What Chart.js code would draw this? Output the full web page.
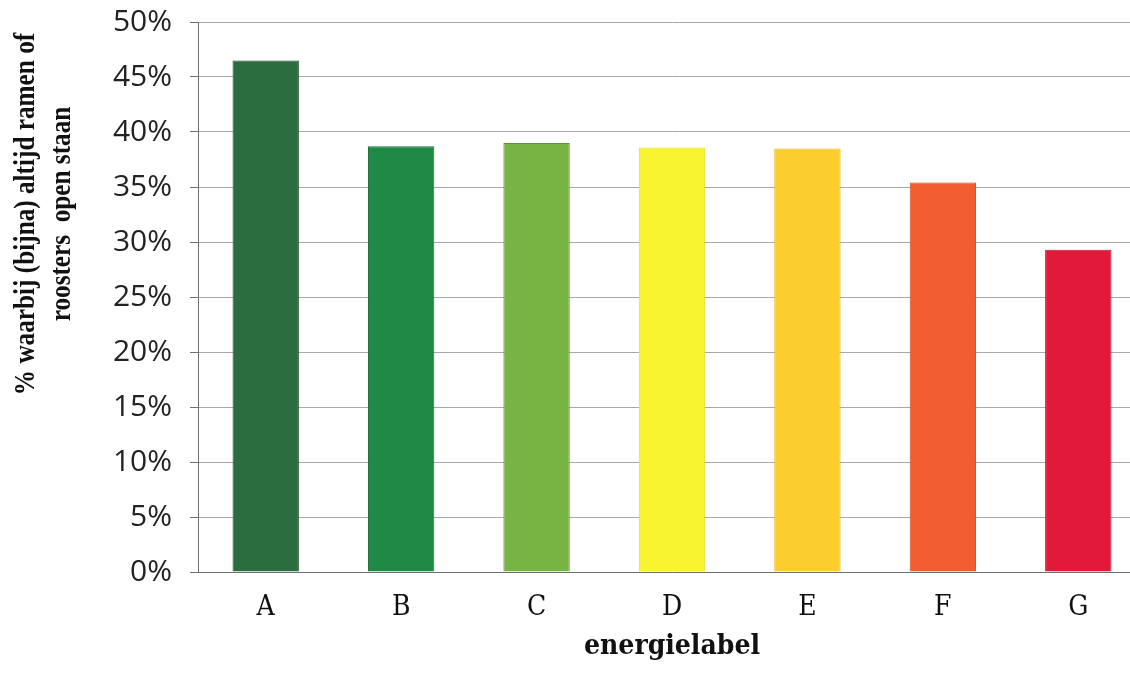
<!DOCTYPE html>
<html>
<head>
<meta charset="utf-8">
<script src="https://cdn.jsdelivr.net/npm/chart.js@4"></script>
<style>
  html, body { margin: 0; padding: 0; background: #fff; overflow: hidden; }
  #wrap { width: 1150px; height: 674px; }
</style>
</head>
<body>
<div id="wrap"><canvas id="c" width="1150" height="674"></canvas></div>
<script>
// Energy label categories and share of homes (%) with windows/vents (almost) always open
const labels = ['A', 'B', 'C', 'D', 'E', 'F', 'G'];
const shares = [46.5, 38.7, 39.0, 38.6, 38.5, 35.4, 29.3];
const barColors = ['#2b6d3e', '#1f8a46', '#78b444', '#f8f430', '#fbcd2d', '#f05d2f', '#e3193a'];
const barBorders = ['#1d4f2c', '#176b36', '#5f9334', '#e3df22', '#e8b81f', '#d84a22', '#c4102d'];
const yTicks = [0, 5, 10, 15, 20, 25, 30, 35, 40, 45, 50];
const yTitle = ['% waarbij (bijna) altijd ramen of', 'roosters  open staan'];
const xTitle = 'energielabel';

// Rotated two-line title for the value axis, set in a narrow bold serif
const yTitlePlugin = {
  id: 'yTitle',
  afterDraw(chart) {
    const ctx = chart.ctx;
    ctx.save();
    ctx.font = 'bold 29px "Liberation Serif", serif';
    ctx.fillStyle = '#111';
    ctx.textAlign = 'center';
    ctx.textBaseline = 'middle';
    const cx = [27, 63];
    yTitle.forEach((line, i) => {
      ctx.save();
      ctx.translate(cx[i], 214);
      ctx.rotate(-Math.PI / 2);
      ctx.scale(0.87, 1);
      ctx.fillText(line, 0, 0);
      ctx.restore();
    });
    ctx.restore();
  }
};

new Chart(document.getElementById('c'), {
  type: 'bar',
  data: {
    labels: labels,
    datasets: [{
      data: shares,
      backgroundColor: barColors,
      borderColor: barBorders,
      borderWidth: 1,
      barPercentage: 0.49,
      categoryPercentage: 1.0
    }]
  },
  plugins: [yTitlePlugin],
  options: {
    responsive: false,
    animation: false,
    devicePixelRatio: 1,
    layout: { padding: { top: 22, left: 0, right: 4, bottom: 0 } },
    plugins: { legend: { display: false }, tooltip: { enabled: false } },
    scales: {
      x: {
        grid: { display: false, drawTicks: false },
        border: { display: true, color: '#6f6f6f', width: 1 },
        ticks: {
          color: '#111',
          padding: 19,
          font: { family: '"DejaVu Serif Condensed", "DejaVu Serif", serif', size: 28 }
        },
        title: {
          display: true,
          text: xTitle,
          color: '#111',
          padding: { top: 0, bottom: 10 },
          font: { family: '"DejaVu Serif Condensed", "DejaVu Serif", serif', size: 28, weight: 'bold' }
        },
        afterFit(scale) { scale.height = 102; }
      },
      y: {
        min: 0,
        max: 50,
        afterBuildTicks(scale) { scale.ticks = yTicks.map(v => ({ value: v })); },
        grid: { color: '#a8a8a8', lineWidth: 1, tickLength: 8, tickColor: '#6f6f6f' },
        border: { display: true, color: '#6f6f6f', width: 1 },
        ticks: {
          color: '#222',
          padding: 18,
          font: { family: '"Open Sans", sans-serif', size: 30 },
          callback: v => v + '%'
        },
        afterFit(scale) {
          scale.width = 198;
          scale.paddingTop = 0;
          scale.paddingBottom = 0;
        }
      }
    }
  }
});
</script>
</body>
</html>
